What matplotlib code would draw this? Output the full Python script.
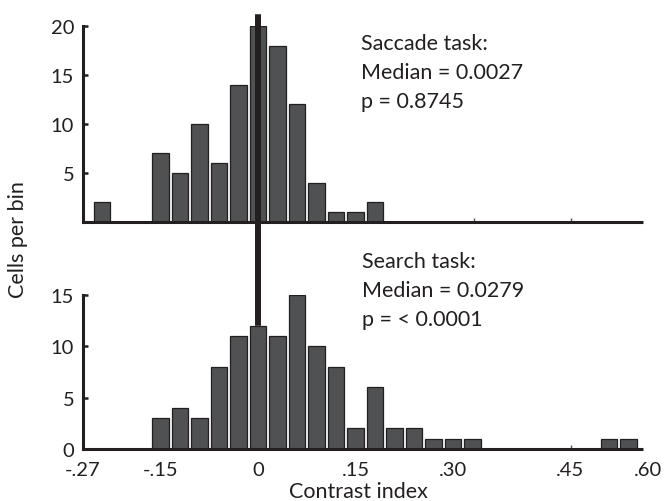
import matplotlib
matplotlib.use('Agg')
import matplotlib.pyplot as plt
from matplotlib.patches import ConnectionPatch

# ---- data ----
saccade_bins = [-0.24, -0.15, -0.12, -0.09, -0.06, -0.03, 0.0, 0.03, 0.06, 0.09, 0.12, 0.15, 0.18]
saccade_counts = [2, 7, 5, 10, 6, 14, 20, 18, 12, 4, 1, 1, 2]
search_bins = [-0.15, -0.12, -0.09, -0.06, -0.03, 0.0, 0.03, 0.06, 0.09, 0.12, 0.15,
               0.18, 0.21, 0.24, 0.27, 0.30, 0.33, 0.54, 0.57]
search_counts = [3, 4, 3, 8, 11, 12, 11, 15, 10, 8, 2, 6, 2, 2, 1, 1, 1, 1, 1]
xtick_labels = ['-.27', '-.15', '0', '.15', '.30', '.45', '.60']
saccade_text = ['Saccade task:', 'Median = 0.0027', 'p = 0.8745']
search_text = ['Search task:', 'Median = 0.0279', 'p = < 0.0001']
saccade_median = 0.0027

plt.rcParams['font.family'] = ['Lato', 'DejaVu Sans']

W, H = 665, 502
fig = plt.figure(figsize=(W / 100, H / 100), dpi=100)

dark = '#231f20'
barface = '#4f5153'

def frac_x(px):
    return px / W

def frac_y(py):
    return 1 - py / H

x_left_px, x_right_px = 82.5, 654.5
xlim = (-0.27, 0.61)
ax1 = fig.add_axes([frac_x(x_left_px), frac_y(223), (x_right_px - x_left_px) / W, 196 / H])
ax2 = fig.add_axes([frac_x(x_left_px), frac_y(450), (x_right_px - x_left_px) / W, 154 / H])

for ax, bins, counts, ymax, yt in [
        (ax1, saccade_bins, saccade_counts, 20, [5, 10, 15, 20]),
        (ax2, search_bins, search_counts, 15, [0, 5, 10, 15])]:
    ax.bar(bins, counts, width=0.025, color=barface, edgecolor=dark, linewidth=0.9, zorder=2)
    ax.set_xlim(*xlim)
    ax.set_ylim(0, ymax)
    for s in ['top', 'right']:
        ax.spines[s].set_visible(False)
    for s in ['left', 'bottom']:
        ax.spines[s].set_linewidth(2.2)
        ax.spines[s].set_color(dark)
        ax.spines[s].set_zorder(3)
    ax.spines['bottom'].set_bounds(-0.27, 0.5923)
    ax.spines['bottom'].set_capstyle('butt')
    ax.set_yticks(yt)
    ax.set_yticklabels([str(v) for v in yt])
    ax.tick_params(axis='y', direction='in', length=3.5, width=1.8, color=dark,
                   labelsize=14.5, pad=6, labelcolor=dark)
    ax.set_xticks([0.332, 0.481], minor=True)
    ax.tick_params(axis='x', which='minor', direction='in', length=3, width=1.0, color='#555555')
    ax.set_facecolor('none')

ax1.set_xticks([])
ax2.set_xticks([-0.27, -0.15, 0.0, 0.15, 0.30, 0.48, 0.60])
ax2.set_xticklabels(xtick_labels)
ax2.tick_params(axis='x', which='major', length=0, labelsize=14.5, pad=8.5, labelcolor=dark)

# thick median line spanning both panels
con = ConnectionPatch(xyA=(saccade_median - 0.0027, 21.2), coordsA=ax1.transData,
                      xyB=(saccade_median - 0.0027, 12), coordsB=ax2.transData,
                      color=dark, linewidth=4.3, zorder=10, capstyle='butt')
fig.add_artist(con)

for i, t in enumerate(saccade_text):
    fig.text(frac_x(361), frac_y(50 + 29 * i), t, fontsize=15.5, color=dark, va='baseline', ha='left')
for i, t in enumerate(search_text):
    fig.text(frac_x(362), frac_y(268 + 29 * i), t, fontsize=15.5, color=dark, va='baseline', ha='left')

fig.text(frac_x(18), frac_y(240), 'Cells per bin', rotation=90, fontsize=15.5, color=dark,
         ha='center', va='center')
fig.text(frac_x(358), frac_y(498), 'Contrast index', fontsize=15.5, color=dark,
         ha='center', va='baseline')

fig.savefig('out.png', dpi=100)
